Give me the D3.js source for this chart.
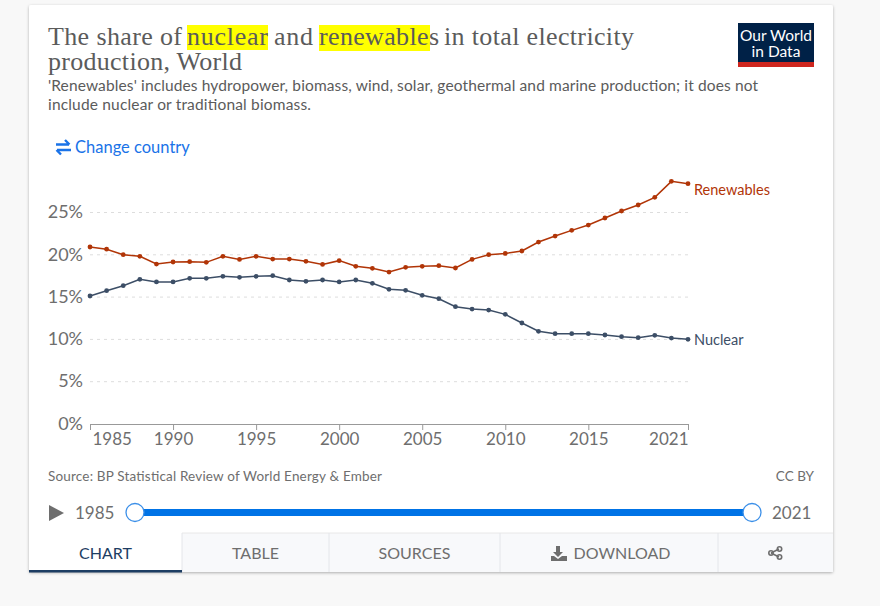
<!DOCTYPE html>
<html>
<head>
<meta charset="utf-8">
<script src="https://cdn.jsdelivr.net/npm/d3@7"></script>
<style>
  html, body { margin: 0; padding: 0; background: #f8f8f8; overflow: hidden; }
  svg { display: block; }
  text { font-family: Lato, sans-serif; }
</style>
</head>
<body>
<script>
const years = d3.range(1985, 2022);
const renewables = [20.86, 20.6, 19.95, 19.76, 18.85, 19.09, 19.13, 19.05, 19.76, 19.4, 19.76, 19.44, 19.44, 19.17, 18.8, 19.25, 18.58, 18.34, 17.9, 18.46, 18.58, 18.65, 18.38, 19.4, 19.95, 20.1, 20.39, 21.45, 22.16, 22.83, 23.46, 24.29, 25.12, 25.83, 26.73, 28.62, 28.35];
const nuclear = [15.07, 15.7, 16.29, 17.04, 16.73, 16.73, 17.16, 17.16, 17.4, 17.28, 17.4, 17.47, 16.96, 16.8, 16.96, 16.73, 16.96, 16.57, 15.86, 15.74, 15.15, 14.75, 13.81, 13.53, 13.41, 12.9, 11.88, 10.9, 10.62, 10.62, 10.62, 10.46, 10.26, 10.14, 10.42, 10.1, 9.95];
const yTicks = [0, 5, 10, 15, 20, 25];
const xTicks = [1985, 1990, 1995, 2000, 2005, 2010, 2015, 2021];
const tabNames = ["CHART", "TABLE", "SOURCES", "DOWNLOAD"];

const width = 880, height = 606;
const svg = d3.select("body").append("svg")
  .attr("width", width).attr("height", height)
  .attr("viewBox", [0, 0, width, height]);

// card
const defs = svg.append("defs");
const shadow = defs.append("filter").attr("id", "shadow")
  .attr("x", "-5%").attr("y", "-5%").attr("width", "110%").attr("height", "110%");
shadow.append("feDropShadow").attr("dx", 0).attr("dy", 1).attr("stdDeviation", 1.5)
  .attr("flood-color", "#000").attr("flood-opacity", 0.3);
svg.append("rect").attr("x", 29).attr("y", 5).attr("width", 804).attr("height", 567)
  .attr("rx", 2).attr("fill", "#fff").attr("filter", "url(#shadow)");

// title with highlights
svg.append("rect").attr("x", 187).attr("y", 25).attr("width", 81).attr("height", 25).attr("fill", "#ffff00");
svg.append("rect").attr("x", 319).attr("y", 25).attr("width", 111).attr("height", 26).attr("fill", "#ffff00");
const titleFont = "'Liberation Serif', serif";
[["The share of", 48, 134], ["nuclear", 187, 81], ["and", 274, 39], ["renewables", 319, 120], ["in total electricity", 444, 190]]
  .forEach(([t, x, w]) => {
    svg.append("text").text(t).attr("x", x).attr("y", 45)
      .attr("textLength", w).attr("lengthAdjust", "spacing")
      .style("font-family", titleFont).style("font-size", "26px").attr("fill", "#5b5b5b");
  });
svg.append("text").text("production, World").attr("x", 48).attr("y", 70)
  .attr("textLength", 194).attr("lengthAdjust", "spacing")
  .style("font-family", titleFont).style("font-size", "26px").attr("fill", "#5b5b5b");

// subtitle
svg.append("text").text("'Renewables' includes hydropower, biomass, wind, solar, geothermal and marine production; it does not")
  .attr("x", 48).attr("y", 91).attr("textLength", 710).attr("fill", "#5b5b5b").style("font-size", "15.5px");
svg.append("text").text("include nuclear or traditional biomass.")
  .attr("x", 48).attr("y", 110).attr("textLength", 263).attr("fill", "#5b5b5b").style("font-size", "15.5px");

// logo
svg.append("rect").attr("x", 738).attr("y", 23).attr("width", 76).attr("height", 44).attr("fill", "#002147");
svg.append("rect").attr("x", 738).attr("y", 62).attr("width", 76).attr("height", 5).attr("fill", "#ce261e");
svg.append("text").text("Our World").attr("x", 776).attr("y", 41).attr("text-anchor", "middle")
  .attr("fill", "#fff").style("font-size", "15.5px");
svg.append("text").text("in Data").attr("x", 776).attr("y", 57).attr("text-anchor", "middle")
  .attr("fill", "#fff").style("font-size", "15.5px");

// change country
const blue = "#1a73e8";
svg.append("path").attr("d", "M56 144.5h13M65 140l4.5 4.5M71 150h-14M61 154.5l-4.5-4.5")
  .attr("fill", "none").attr("stroke", blue).attr("stroke-width", 2.4);
svg.append("text").text("Change country").attr("x", 75).attr("y", 152.5)
  .attr("fill", blue).style("font-size", "16.5px");

// chart
const x = d3.scaleLinear().domain([1985, 2021]).range([90, 688]);
const y = d3.scaleLinear().domain([0, 25]).range([423.5, 212]);

const yAxis = d3.axisLeft(y).tickValues(yTicks).tickFormat(d => d + "%")
  .tickSize(0).tickPadding(7);
const yG = svg.append("g").attr("transform", "translate(90,0)").call(yAxis);
yG.select(".domain").remove();
yG.selectAll("text").attr("fill", "#6e6e6e").style("font-size", "18px").style("font-family", "Lato");
yG.selectAll(".tick").filter(d => d > 0).append("line")
  .attr("x1", 0).attr("x2", x(2021) - x(1985))
  .attr("stroke", "#dddddd").attr("stroke-dasharray", "3,4");

const xAxis = d3.axisBottom(x).tickValues(xTicks).tickFormat(d3.format("d"))
  .tickSize(6).tickSizeOuter(0).tickPadding(3);
const xG = svg.append("g").attr("transform", "translate(0,424)").call(xAxis);
xG.select(".domain").attr("stroke", "#999");
xG.selectAll("line").attr("stroke", "#999");
xG.selectAll("text").attr("fill", "#6e6e6e").style("font-size", "17px").style("font-family", "Lato")
  .attr("text-anchor", d => d === 1985 ? "start" : d === 2021 ? "end" : "middle")
  .attr("dx", d => d === 1985 ? 2 : 0);

const line = d3.line().x((d, i) => x(years[i])).y(d => y(d));
const series = [
  { name: "Renewables", values: renewables, color: "#b13507", labelY: 195 },
  { name: "Nuclear", values: nuclear, color: "#3c4e66", labelY: 345 }
];
series.forEach(s => {
  svg.append("path").datum(s.values).attr("d", line)
    .attr("fill", "none").attr("stroke", s.color).attr("stroke-width", 1.5);
  svg.append("g").selectAll("circle").data(s.values).join("circle")
    .attr("cx", (d, i) => x(years[i])).attr("cy", d => y(d)).attr("r", 2.4)
    .attr("fill", s.color);
  svg.append("text").text(s.name).attr("x", 694).attr("y", s.labelY)
    .attr("fill", s.color).style("font-size", "14.5px");
});

// footer
svg.append("text").text("Source: BP Statistical Review of World Energy & Ember")
  .attr("x", 48).attr("y", 481).attr("textLength", 334).attr("fill", "#6e6e6e").style("font-size", "13.5px");
svg.append("text").text("CC BY").attr("x", 814).attr("y", 481).attr("text-anchor", "end")
  .attr("fill", "#6e6e6e").style("font-size", "13.5px");

// timeline
svg.append("path").attr("d", "M49 505L64 513L49 521Z").attr("fill", "#6e6e6e");
svg.append("text").text(years[0]).attr("x", 75).attr("y", 519).attr("fill", "#6e6e6e").style("font-size", "17px");
svg.append("text").text(years[years.length - 1]).attr("x", 772).attr("y", 519).attr("fill", "#6e6e6e").style("font-size", "17px");
svg.append("rect").attr("x", 135).attr("y", 509).attr("width", 617).attr("height", 7).attr("fill", "#0073e6");
[135, 752].forEach(cx => {
  svg.append("circle").attr("cx", cx).attr("cy", 512.5).attr("r", 9)
    .attr("fill", "#fff").attr("stroke", "#3b8fe8").attr("stroke-width", 1.3);
});

// tabs
const tabEdges = [29, 182, 329, 500, 718, 833];
svg.append("rect").attr("x", 182).attr("y", 533).attr("width", 651).attr("height", 39).attr("fill", "#f8f9fb");
svg.append("line").attr("x1", 182).attr("x2", 833).attr("y1", 533).attr("y2", 533).attr("stroke", "#e8e8e8");
tabEdges.slice(1, 5).forEach(e => {
  svg.append("line").attr("x1", e).attr("x2", e).attr("y1", 533).attr("y2", 572).attr("stroke", "#e4e6ea");
});
svg.append("rect").attr("x", 29).attr("y", 570).attr("width", 153).attr("height", 2.5).attr("fill", "#1d3d63");
tabNames.forEach((t, i) => {
  const cx = i === 3 ? 622 : (tabEdges[i] + tabEdges[i + 1]) / 2;
  svg.append("text").text(t).attr("x", cx).attr("y", 558.5).attr("text-anchor", "middle")
    .attr("fill", i === 0 ? "#1d3d63" : "#6e6e6e").style("font-size", "16px");
});
// download icon
svg.append("path").attr("d", "M556 546h4v6h3l-5 5-5-5h3zM551 556h3l4 3 4-3h5v5h-16z").attr("fill", "#6e6e6e");
// share icon
const share = svg.append("g").attr("fill", "none").attr("stroke", "#6e6e6e").attr("stroke-width", 1.6);
share.append("path").attr("d", "M771 553L779 549M771 553L779 557");
[[771, 553], [779.5, 549], [779.5, 557]].forEach(([cx, cy]) => {
  share.append("circle").attr("cx", cx).attr("cy", cy).attr("r", 2.2);
});
</script>
</body>
</html>
